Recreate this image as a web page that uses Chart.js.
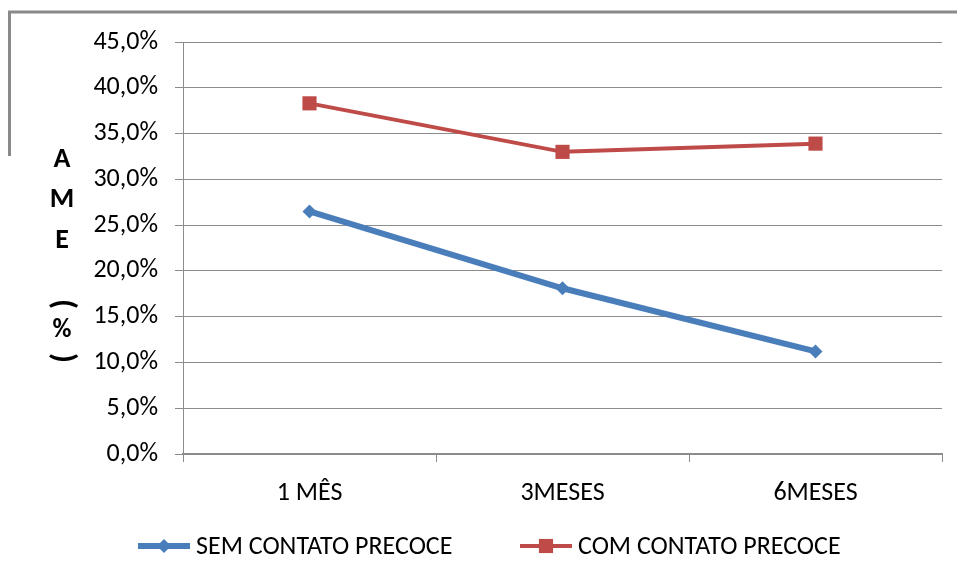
<!DOCTYPE html>
<html>
<head>
<meta charset="utf-8">
<script src="https://cdn.jsdelivr.net/npm/chart.js@4.4.1/dist/chart.umd.min.js"></script>
<style>
  html, body { margin: 0; padding: 0; background: #fff; }
  #wrap { width: 957px; height: 578px; position: relative; }
</style>
</head>
<body>
<div id="wrap"><canvas id="ameChart" width="957" height="578"></canvas></div>
<script>
// Data
const categories = ['1 MÊS', '3MESES', '6MESES'];
const semContato = [26.5, 18.1, 11.2];
const comContato = [38.3, 33.0, 33.9];
const seriesNames = ['SEM CONTATO PRECOCE', 'COM CONTATO PRECOCE'];
const yTicks = [0, 5, 10, 15, 20, 25, 30, 35, 40, 45];

const FONT = "Carlito, 'Liberation Sans Narrow', 'DejaVu Sans Condensed', sans-serif";
const BLUE = '#4A7EBB';
const RED = '#BE4B48';
const GRID = '#8c8c8c';

// frame, axis title and legend drawn on the canvas
const extras = {
  id: 'extras',
  afterDraw(chart) {
    const ctx = chart.ctx;
    ctx.save();

    // partial gray frame top-left
    ctx.strokeStyle = '#8a8a8a';
    ctx.lineWidth = 3;
    ctx.beginPath();
    ctx.moveTo(9.5, 156);
    ctx.lineTo(9.5, 12);
    ctx.lineTo(957, 12);
    ctx.stroke();

    // vertical axis title "AME (%)"
    ctx.fillStyle = '#000';
    ctx.font = 'bold 28px ' + FONT;
    ctx.textAlign = 'center';
    ctx.textBaseline = 'middle';
    ctx.fillText('A', 62, 160);
    ctx.fillText('M', 62, 200);
    ctx.fillText('E', 62, 241);
    ctx.font = 'bold 26px ' + FONT;
    ctx.fillText('%', 62, 330);
    ctx.font = 'bold 32px ' + FONT;
    [['(', 304], [')', 358]].forEach(([ch, y]) => {
      ctx.save();
      ctx.translate(62, y);
      ctx.rotate(Math.PI / 2);
      ctx.fillText(ch, 0, 0);
      ctx.restore();
    });

    // legend
    const items = [
      { x: 138, color: BLUE, width: 6, style: 'rectRot', r: 7, text: seriesNames[0] },
      { x: 520, color: RED, width: 4, style: 'rect', r: 10, text: seriesNames[1] }
    ];
    const ly = 546;
    items.forEach(it => {
      ctx.strokeStyle = it.color;
      ctx.lineWidth = it.width;
      ctx.beginPath();
      ctx.moveTo(it.x, ly);
      ctx.lineTo(it.x + 52, ly);
      ctx.stroke();
      ctx.fillStyle = it.color;
      Chart.helpers.drawPoint(ctx, { pointStyle: it.style, radius: it.r, borderWidth: 0 }, it.x + 26, ly);
      ctx.fillStyle = '#000';
      ctx.font = '26px ' + FONT;
      ctx.textAlign = 'left';
      ctx.fillText(it.text, it.x + 58, ly + 1);
    });

    ctx.restore();
  }
};

const ctx = document.getElementById('ameChart').getContext('2d');
new Chart(ctx, {
  type: 'line',
  data: {
    labels: categories,
    datasets: [
      {
        label: seriesNames[0],
        data: semContato,
        borderColor: BLUE,
        backgroundColor: BLUE,
        borderWidth: 6,
        pointStyle: 'rectRot',
        pointRadius: 7,
        pointBorderWidth: 0,
        tension: 0
      },
      {
        label: seriesNames[1],
        data: comContato,
        borderColor: RED,
        backgroundColor: RED,
        borderWidth: 4,
        pointStyle: 'rect',
        pointRadius: 10,
        pointBorderWidth: 0,
        tension: 0
      }
    ]
  },
  options: {
    responsive: false,
    animation: false,
    layout: { padding: { top: 42, right: 15, bottom: 74, left: 0 } },
    plugins: {
      legend: { display: false },
      tooltip: { enabled: false }
    },
    scales: {
      x: {
        offset: true,
        grid: { display: true, offset: true, drawOnChartArea: false, drawTicks: true, tickLength: 8, color: GRID, lineWidth: 1 },
        border: { display: true, color: GRID, width: 2 },
        ticks: { color: '#000', font: { family: FONT, size: 26 }, padding: 16, maxRotation: 0 },
        afterFit(scale) { scale.height = 50; }
      },
      y: {
        min: 0,
        max: 45,
        afterBuildTicks(scale) { scale.ticks = yTicks.map(v => ({ value: v })); },
        grid: { color: GRID, lineWidth: 1, tickLength: 8 },
        border: { display: true, color: GRID, width: 1 },
        ticks: {
          color: '#000',
          font: { family: FONT, size: 26 },
          padding: 17,
          callback: v => v.toFixed(1).replace('.', ',') + '%'
        },
        afterFit(scale) { scale.width = 183; }
      }
    }
  },
  plugins: [extras]
});
</script>
</body>
</html>
